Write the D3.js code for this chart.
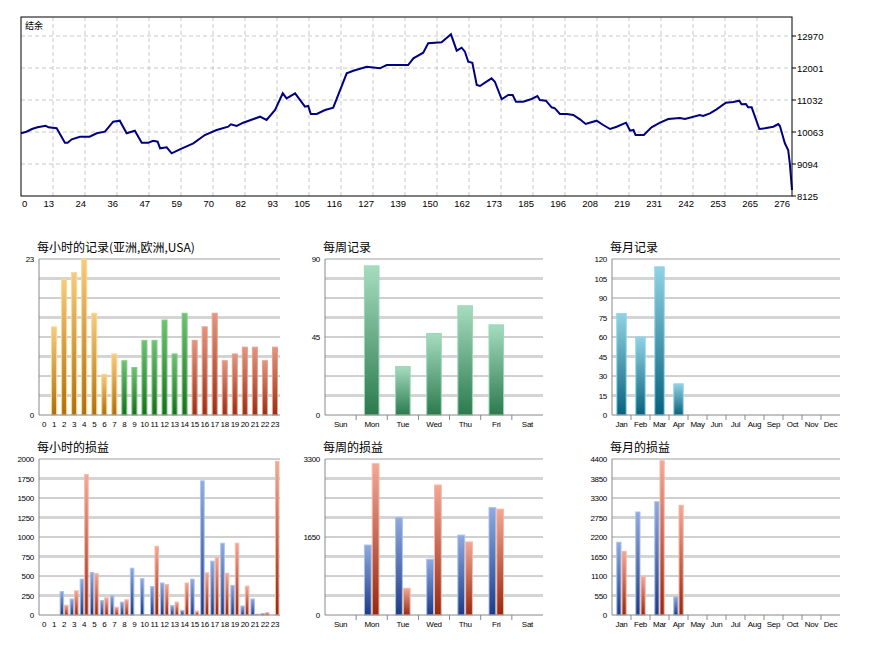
<!DOCTYPE html>
<html><head><meta charset="utf-8">
<script src="https://cdn.jsdelivr.net/npm/d3@7"></script>
<style>body{margin:0;background:#fff}text{font-family:"Liberation Sans",Arial,sans-serif}</style>
</head><body><svg id="c" width="892" height="652"></svg>
<script>
// balance curve: trade index / balance
const balIdx = [0,2,4,6,9,10,13,16,17,18.5,21.5,25,27.6,30.6,33.6,36,38.5,41.5,44,46.4,48.2,49.8,50.7,53.1,54.9,57.9,62.8,67,71.3,75.5,76.5,78.6,81,87.1,89.5,92.6,95.4,96.8,99.9,103.5,104.7,105.6,107.8,110.8,113.8,118.7,121.1,126,130.8,133.3,141.1,143,146.6,148.4,153.3,156.7,158.8,160.6,161.8,163,164.5,166.1,167.3,169.1,171.5,172.7,175.2,177.6,179.2,180.4,183,186.1,188.2,189.1,191.3,193.4,194.6,196.4,198.9,201.3,203.7,205.8,209.8,212.2,214.7,217.1,220.5,222,223.2,224,227,229.8,232.9,235.9,240.1,242,247.4,248.6,251.1,253.5,256.9,259.6,261.8,262.6,264.2,265,266.3,269.1,271.1,274.2,276,276.6,278.4,279.6,280.2,281];
const balVal = [10024,10072,10154,10205,10254,10205,10175,9739,9739,9842,9921,9921,10024,10072,10375,10405,10024,10102,9739,9739,9799,9769,9569,9600,9418,9539,9721,9972,10123,10223,10296,10245,10345,10526,10426,10729,11235,11083,11235,10829,10850,10608,10608,10729,10799,11840,11919,12040,11992,12092,12092,12295,12464,12749,12779,13021,12525,12615,12494,12192,12161,11486,11456,11556,11689,11586,11053,11183,11183,10980,10980,11062,11153,11032,11011,10811,10781,10608,10608,10578,10447,10305,10405,10275,10154,10223,10345,10102,10123,9972,9972,10205,10345,10457,10487,10457,10578,10547,10629,10750,10950,10971,11011,10902,10911,10811,10811,10154,10175,10223,10305,10245,9721,9518,9115,8307];
const balXLabels = ["0","13","24","36","47","59","70","82","93","105","116","127","139","150","162","173","185","196","208","219","231","242","253","265","276"];
const balYTicks = [8125,9094,10063,11032,12001,12970];

const hours = d3.range(24).map(String);
const days = ["Sun","Mon","Tue","Wed","Thu","Fri","Sat"];
const months = ["Jan","Feb","Mar","Apr","May","Jun","Jul","Aug","Sep","Oct","Nov","Dec"];

const hourTrades = [0,13,20,21,23,15,6,9,8,7,11,11,14,9,15,11,13,15,8,9,10,10,8,10];
const dayTrades = [0,86,28,47,63,52,0];
const monthTrades = [78,60,114,24,0,0,0,0,0,0,0,0];

const hourProfit = [0,0,300,205,460,545,185,245,165,600,465,365,410,120,60,460,1720,690,920,380,115,205,20,0];
const hourLoss = [0,0,125,310,1800,530,220,100,195,0,5,880,390,165,410,50,540,735,535,920,370,10,30,1970];
const dayProfit = [0,1480,2060,1180,1690,2270,0];
const dayLoss = [0,3200,565,2750,1545,2240,0];
const monthProfit = [2050,2905,3195,515,0,0,0,0,0,0,0,0];
const monthLoss = [1795,1080,4350,3095,0,0,0,0,0,0,0,0];

const svg = d3.select("#c");
const defs = svg.append("defs");
function grad(id, c1, c2){
  const g = defs.append("linearGradient").attr("id", id).attr("x1",0).attr("y1",0).attr("x2",0).attr("y2",1);
  g.append("stop").attr("offset","0%").attr("stop-color", c1);
  g.append("stop").attr("offset","100%").attr("stop-color", c2);
}
grad("gOrange","#f6cb80","#b06e08");
grad("gGreen","#72c076","#17701a");
grad("gRed","#e39580","#9c2e15");
grad("gWeek","#a6dcc0","#2b7a4d");
grad("gMonth","#92d2e4","#07627d");
grad("gBlue","#8eaadf","#1d3b86");
grad("gLoss","#f2a895","#982810");

// ---- balance chart
const bx = d3.scaleLinear().domain([0,281]).range([21,792]);
const by = d3.scaleLinear().domain([8125, 8125 + 179/32*969]).range([196,17]);
const step = 281*32/771;
const balG = svg.append("g");
balG.selectAll(".vg").data(d3.range(1,24)).enter().append("line")
  .attr("x1", k => bx(k*step)).attr("x2", k => bx(k*step)).attr("y1",17).attr("y2",196)
  .attr("stroke","#c8c8c8").attr("stroke-dasharray","4,3");
balG.selectAll(".hg").data(balYTicks.slice(1)).enter().append("line")
  .attr("x1",21).attr("x2",792).attr("y1", d => by(d)).attr("y2", d => by(d))
  .attr("stroke","#c8c8c8").attr("stroke-dasharray","4,3");
balG.append("path").datum(balIdx.map((d,i)=>[d,balVal[i]]))
  .attr("d", d3.line().x(d=>bx(d[0])).y(d=>by(d[1])))
  .attr("fill","none").attr("stroke","#000080").attr("stroke-width",2);
balG.append("rect").attr("x",21).attr("y",17).attr("width",771).attr("height",179)
  .attr("fill","none").attr("stroke","#000");
balG.selectAll(".xl").data(balXLabels).enter().append("text")
  .attr("x",(d,k)=> k==0 ? 22 : bx(k*step)+1).attr("y",207)
  .attr("text-anchor",(d,k)=> k==0 ? "start" : "end")
  .attr("font-size",9.5).text(d=>d);
balG.selectAll(".yt").data(balYTicks).enter().append("line")
  .attr("x1",792).attr("x2",796).attr("y1",d=>by(d)).attr("y2",d=>by(d)).attr("stroke","#000");
balG.selectAll(".yl").data(balYTicks).enter().append("text")
  .attr("x",797).attr("y",d=>by(d)+3.5).attr("font-size",9.5).text(d=>d);
balG.append("text").attr("x",25).attr("y",29).attr("font-size",9)
  .style("font-family","'Noto Sans CJK SC'").text("结余");

// ---- small bar panels
function panel(o){
  const g = svg.append("g");
  const x = d3.scaleBand().domain(o.cats).range([o.left,o.right]);
  const y = d3.scaleLinear().domain([0,o.max]).range([o.bottom,o.top]);
  const gl = d3.range(1,9).map(i => o.max*i/8);
  g.selectAll(".gl").data(gl).enter().append("line")
    .attr("x1",o.left).attr("x2",o.right).attr("y1",d=>y(d)).attr("y2",d=>y(d))
    .attr("stroke",(d,i)=> i%2==0 ? "#d4d4d4" : "#a0a0a0")
    .attr("stroke-width",(d,i)=> i%2==0 ? 3 : 1);
  const n = o.series.length;
  const bw = x.bandwidth()*o.fill/n;
  o.series.forEach((s,si) => {
    g.selectAll(".b"+si).data(s.vals).enter().append("rect")
      .attr("x",(d,i)=> x(o.cats[i]) + (x.bandwidth()-bw*n)/2 + si*bw + 0.5)
      .attr("width", bw-1)
      .attr("y", d => y(d)).attr("height", d => o.bottom - y(d))
      .attr("fill",(d,i)=> "url(#"+s.fill(i)+")")
      .attr("stroke",(d,i)=> s.stroke(i)).attr("stroke-width",1)
      .style("display", d => d>0 ? null : "none");
  });
  g.append("line").attr("x1",o.left).attr("x2",o.left).attr("y1",o.top).attr("y2",o.bottom).attr("stroke","#888");
  g.append("line").attr("x1",o.left).attr("x2",o.right).attr("y1",o.bottom).attr("y2",o.bottom).attr("stroke","#888");
  g.selectAll(".yl").data(o.ticks).enter().append("text")
    .attr("x",o.left-5).attr("y",d=>y(d)+3).attr("text-anchor","end")
    .attr("font-size",8).attr("letter-spacing","-0.3").text(d=>d);
  g.selectAll(".xl").data(o.cats).enter().append("text")
    .attr("x",d=>x(d)+x.bandwidth()/2).attr("y",o.bottom+12).attr("text-anchor","middle")
    .attr("font-size",8).attr("letter-spacing","-0.3").text(d=>d);
  if (o.seps) g.selectAll(".sp").data(o.cats.slice(1)).enter().append("line")
    .attr("x1",d=>x(d)).attr("x2",d=>x(d)).attr("y1",o.bottom).attr("y2",o.bottom+5).attr("stroke","#888");
  g.append("text").attr("x",o.left-2).attr("y",o.top-7).attr("font-size",12)
    .style("font-family","'Noto Sans CJK SC'").text(o.title);
}
const hourFill = i => i<8 ? "gOrange" : i<15 ? "gGreen" : "gRed";
const hourStroke = i => i<8 ? "#fcd890" : i<15 ? "#7fcf83" : "#eaa08a";
const blue = {fill:()=>"gBlue", stroke:()=>"#a9c0ea"};
const loss = vals => ({vals, fill:()=>"gLoss", stroke:()=>"#f6b8a8"});

panel({title:"每小时的记录(亚洲,欧洲,USA)", cats:hours, left:39, right:280, top:259, bottom:415, max:23, ticks:[0,23], fill:0.6,
  series:[{vals:hourTrades, fill:hourFill, stroke:hourStroke}]});
panel({title:"每周记录", cats:days, left:325, right:543, top:259, bottom:415, max:90, ticks:[0,45,90], fill:0.5, seps:true,
  series:[{vals:dayTrades, fill:()=>"gWeek", stroke:()=>"#98d8b4"}]});
panel({title:"每月记录", cats:months, left:612, right:840, top:259, bottom:415, max:120, ticks:d3.range(0,121,15), fill:0.55, seps:true,
  series:[{vals:monthTrades, fill:()=>"gMonth", stroke:()=>"#8fd6e8"}]});
panel({title:"每小时的损益", cats:hours, left:39, right:280, top:459, bottom:615, max:2000, ticks:d3.range(0,2001,250), fill:0.9,
  series:[Object.assign({vals:hourProfit},blue), loss(hourLoss)]});
panel({title:"每周的损益", cats:days, left:325, right:543, top:459, bottom:615, max:3300, ticks:[0,1650,3300], fill:0.5, seps:true,
  series:[Object.assign({vals:dayProfit},blue), loss(dayLoss)]});
panel({title:"每月的损益", cats:months, left:612, right:840, top:459, bottom:615, max:4400, ticks:d3.range(0,4401,550), fill:0.55, seps:true,
  series:[Object.assign({vals:monthProfit},blue), loss(monthLoss)]});
</script></body></html>
